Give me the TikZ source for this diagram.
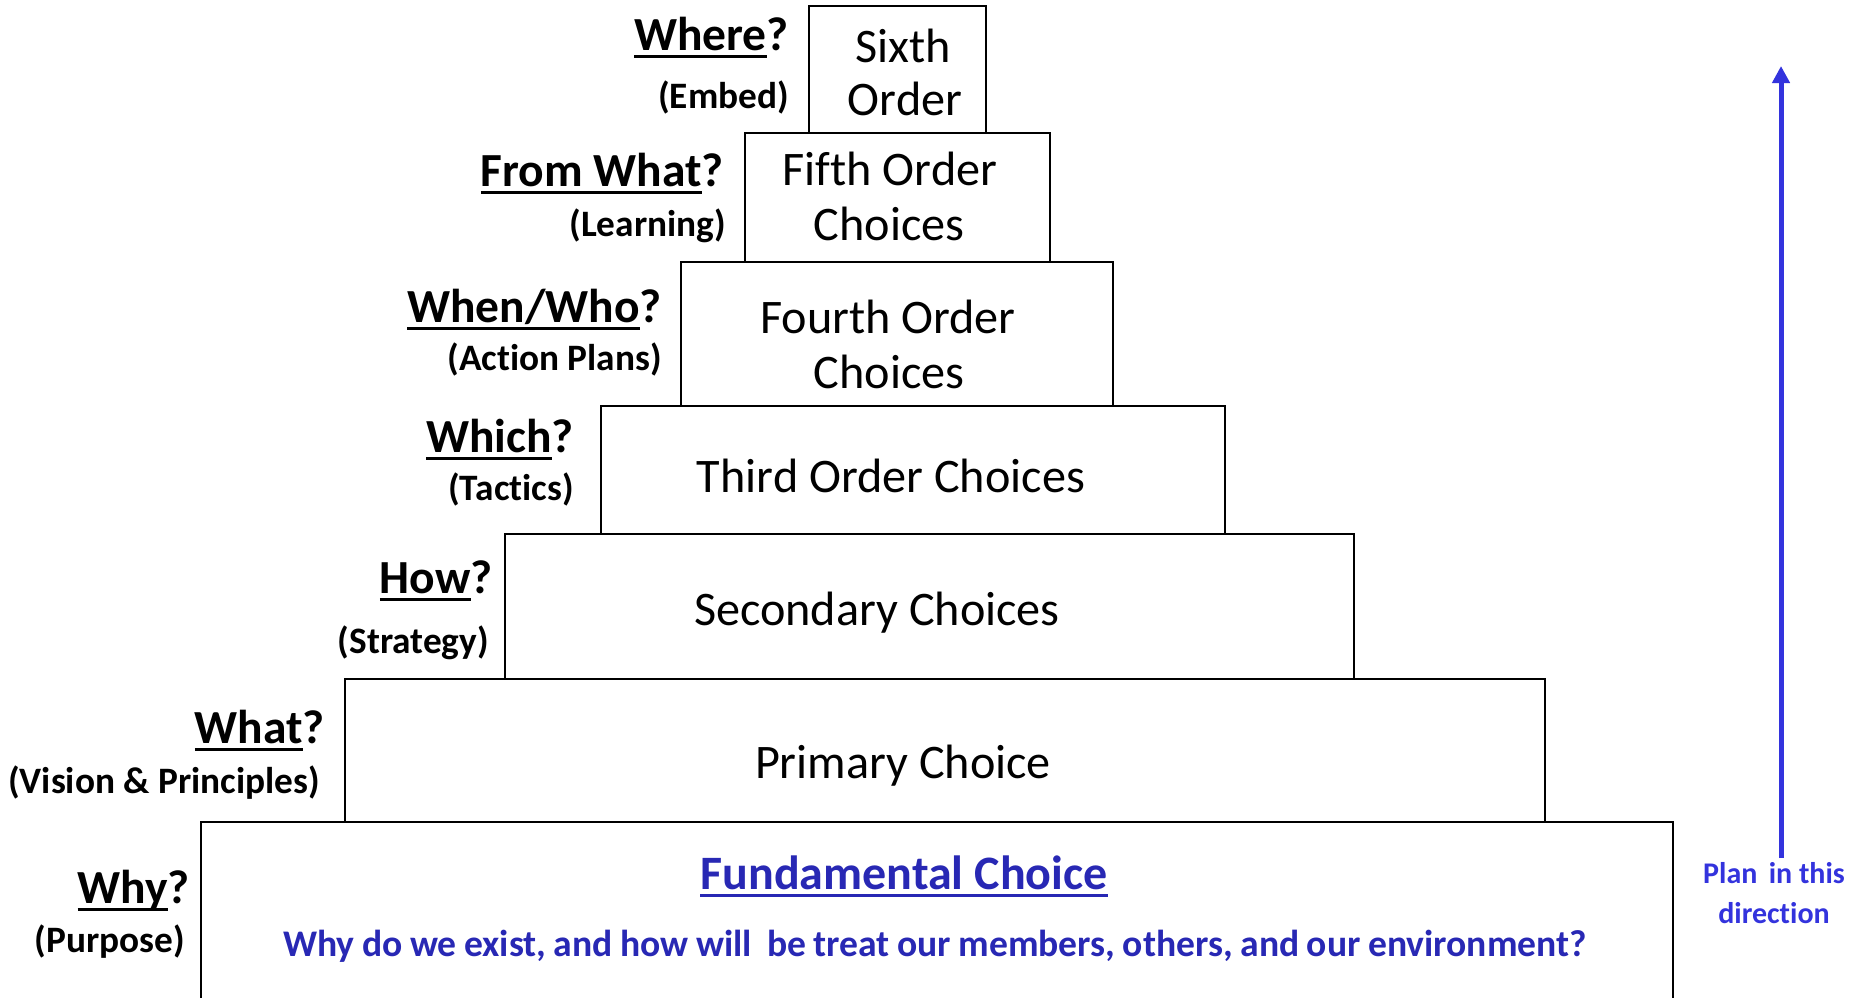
\documentclass[tikz,border=0pt]{standalone}
\usepackage{fontspec}
\setmainfont{Carlito}[Ligatures=NoCommon]
\usetikzlibrary{arrows.meta}
\definecolor{planblue}{RGB}{51,51,221}
\definecolor{textblue}{RGB}{40,40,180}
% underline a word at a fixed distance below the baseline
\newcommand{\ulword}[1]{\sbox0{#1}\rlap{\rule[-8pt]{\wd0}{2.6pt}}\usebox0}
\begin{document}
\begin{tikzpicture}[x=1pt,y=-1pt,
  tier/.style={draw=black, line width=2.8pt},
  boxtext/.style={anchor=base, inner sep=0pt, font=\fontsize{48.2}{58}\selectfont},
  ask/.style={anchor=base east, inner sep=0pt, font=\bfseries\fontsize{47.5}{57}\selectfont},
  aspect/.style={anchor=base east, inner sep=0pt, font=\bfseries\fontsize{37.3}{45}\selectfont},
  planlabel/.style={anchor=base, inner sep=0pt, text=planblue, font=\bfseries\fontsize{30}{36}\selectfont},
  planarrow/.style={draw=planblue, line width=5pt, -{Triangle[width=17pt,length=17pt]}}]
\useasboundingbox (0,0) rectangle (1851,997);
\clip (0,0) rectangle (1851,997);

% tiers of the pyramid, top to bottom
\draw[tier] (809,6) rectangle (986,133);
\draw[tier] (745,133) rectangle (1050,262);
\draw[tier] (681,262) rectangle (1113,406);
\draw[tier] (601,406) rectangle (1225,534);
\draw[tier] (505,534) rectangle (1354,679);
\draw[tier] (345,679) rectangle (1545,822);
\draw[tier] (201,1010) -- (201,822) -- (1673,822) -- (1673,1010);

% text inside the tiers
\node[boxtext] (sixthA) at (903,62) {Sixth};
\node[boxtext] (sixthB) at (905,115) {Order};
\node[boxtext] (fifthA) at (890,185) {Fifth Order};
\node[boxtext] (fifthB) at (889,240) {Choices};
\node[boxtext] (fourthA) at (888,333) {Fourth Order};
\node[boxtext] (fourthB) at (889,388) {Choices};
\node[boxtext] (third) at (891,492) {Third Order Choices};
\node[boxtext] (second) at (877,625) {Secondary Choices};
\node[boxtext] (primary) at (903,778) {Primary Choice};
\node[anchor=base, inner sep=0pt, text=textblue, font=\bfseries\fontsize{48}{58}\selectfont]
  (fundamental) at (904,889) {\ulword{Fundamental Choice}};
\node[anchor=base, inner sep=0pt, text=textblue, font=\bfseries\fontsize{37.6}{45}\selectfont]
  (purpose) at (935,956) {\spaceskip=0.2em Why do we exist, and how will\hspace{0.2em} be treat our members, others, and our environment?};

% questions on the left of each tier
\node[ask] (where) at (789,50) {\ulword{Where}?};
\node[aspect] (embed) at (789,108) {(Embed)};
\node[ask] (fromwhat) at (724,186) {\ulword{From What}?};
\node[aspect] (learning) at (726,236) {(Learning)};
\node[ask] (whenwho) at (662,322) {\ulword{When/Who}?};
\node[aspect] (action) at (662,370) {(Action Plans)};
\node[ask] (which) at (574,452) {\ulword{Which}?};
\node[aspect] (tactics) at (574,500) {(Tactics)};
\node[ask] (how) at (493,593) {\ulword{How}?};
\node[aspect] (strategy) at (489,653) {(Strategy)};
\node[ask] (what) at (325,743) {\ulword{What}?};
\node[aspect] (vision) at (320,793) {(Vision \& Principles)};
\node[ask] (why) at (190,903) {\ulword{Why}?};
\node[aspect] (purp) at (185,952) {(Purpose)};

% planning direction
\node[planlabel] (planA) at (1774,883) {Plan\hspace{0.15em} in this};
\node[planlabel] (planB) at (1774,923) {direction};
\coordinate (arrowtail) at (1781,858);
\coordinate (arrowtip) at (1781,66);
\draw[planarrow] (arrowtail) -- (arrowtip);
\end{tikzpicture}
\end{document}
